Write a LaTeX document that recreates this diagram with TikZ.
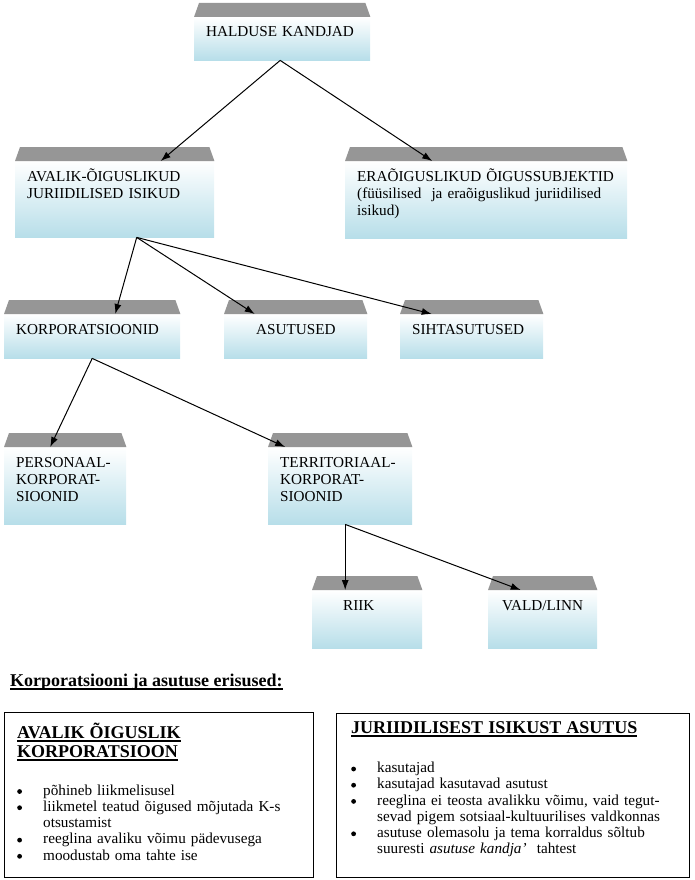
\documentclass[tikz,border=0pt]{standalone}
\usepackage{fontspec}
\setmainfont{Liberation Serif}
\usepackage{xcolor}
\usepackage{tikz}
\usetikzlibrary{arrows.meta}

\definecolor{Sky}{RGB}{183,222,233}
\definecolor{LidGray}{RGB}{150,150,150}
\newcommand{\Diag}{\fontsize{15.2}{17.3}\selectfont}
\newcommand{\Body}{\fontsize{15.2}{16.2}\selectfont}
\newcommand{\Head}{\fontsize{18}{19}\selectfont\bfseries}
\newcommand{\Uline}[1]{\leavevmode\setbox0=\hbox{#1}\rlap{\rule[-3.5pt]{\wd0}{1.3pt}}\box0}
\newcommand{\Dot}{\makebox[26pt][l]{\raisebox{1.3pt}{\tikz\fill (0,0) circle[radius=2.4pt];}}}
\newcommand{\Cont}{\hspace*{26pt}}

\begin{document}
\begin{tikzpicture}
  [
    x=1pt, y=-1pt,
    Box/.style={anchor=north west, inner sep=0pt, top color=white, bottom color=Sky},
    Lid/.style={fill=LidGray},
    Txt/.style={anchor=base west, inner sep=0pt, xshift=12pt, yshift=-20pt, text width=260pt, align=left, font=\Diag},
    Panel/.style={anchor=north west, inner sep=0pt, draw=black, line width=1.2pt},
    Note/.style={anchor=base west, inner sep=0pt, text width=#1, align=left, font=\Body},
    Arrow/.style={-{Latex[length=10pt, width=7pt]}, line width=1pt}
  ]
  \useasboundingbox (0,0) rectangle (695,880);
  % Nodes
  \node[Box, minimum width=176pt, minimum height=43pt,
    label={[Txt]north west:HALDUSE KANDJAD}] (halduse) at (194, 17) {};
  \node[Box, minimum width=199pt, minimum height=76pt,
    label={[Txt]north west:{AVALIK-ÕIGUSLIKUD\\JURIIDILISED ISIKUD}}] (avalik) at (15, 161) {};
  \node[Box, minimum width=282pt, minimum height=77pt,
    label={[Txt]north west:{ERAÕIGUSLIKUD ÕIGUSSUBJEKTID\\(füüsilised~ ja eraõiguslikud juriidilised\\isikud)}}] (erao) at (345, 161) {};
  \node[Box, minimum width=176pt, minimum height=44pt,
    label={[Txt]north west:KORPORATSIOONID}] (korp) at (4, 314) {};
  \node[Box, minimum width=143pt, minimum height=44pt,
    label={[Txt, xshift=20pt]north west:ASUTUSED}] (asutused) at (224, 314) {};
  \node[Box, minimum width=143pt, minimum height=44pt,
    label={[Txt]north west:SIHTASUTUSED}] (siht) at (400, 314) {};
  \node[Box, minimum width=122pt, minimum height=77pt,
    label={[Txt]north west:{PERSONAAL-\\KORPORAT-\\SIOONID}}] (personaal) at (4, 447) {};
  \node[Box, minimum width=144pt, minimum height=77pt,
    label={[Txt]north west:{TERRITORIAAL-\\KORPORAT-\\SIOONID}}] (territ) at (268, 447) {};
  \node[Box, minimum width=110pt, minimum height=58pt,
    label={[Txt, xshift=19pt]north west:RIIK}] (riik) at (312, 590) {};
  \node[Box, minimum width=109pt, minimum height=58pt,
    label={[Txt, xshift=2pt]north west:VALD/LINN}] (vald) at (488, 590) {};
  % Lids
  \foreach \n in {halduse, avalik, erao, korp, asutused, siht, personaal, territ, riik, vald}
    \fill[Lid] (\n.north west) -- ([xshift=5pt, yshift=14pt]\n.north west)
      -- ([xshift=-5pt, yshift=14pt]\n.north east) -- (\n.north east) -- cycle;
  % Lines
  \path [Arrow, draw] ([xshift=-2pt]halduse.south) -- ([xshift=46pt]avalik.north);
  \path [Arrow, draw] ([xshift=-2pt]halduse.south) -- ([xshift=-54pt]erao.north);
  \path [Arrow, draw] ([xshift=22pt]avalik.south) -- ([xshift=23pt]korp.north);
  \path [Arrow, draw] ([xshift=22pt]avalik.south) -- ([xshift=-41pt]asutused.north);
  \path [Arrow, draw] ([xshift=22pt]avalik.south) -- ([xshift=-40pt]siht.north);
  \path [Arrow, draw] (korp.south) -- ([xshift=-15pt]personaal.north);
  \path [Arrow, draw] (korp.south) -- ([xshift=-55pt]territ.north);
  \path [Arrow, draw] ([xshift=5pt]territ.south) -- ([xshift=-22pt]riik.north);
  \path [Arrow, draw] ([xshift=5pt]territ.south) -- ([xshift=-22pt]vald.north);
  % Differences
  \node[anchor=base west, inner sep=0pt, font=\Head] (erisused) at (10, 686)
    {\Uline{Korporatsiooni ja asutuse erisused:}};
  \node[Panel, minimum width=309pt, minimum height=165pt,
    label={[Note=290pt, xshift=13pt, yshift=-26pt]north west:{%
      {\Head\Uline{AVALIK ÕIGUSLIK}\\\Uline{KORPORATSIOON}\endgraf}
      \vspace{22pt}
      \Dot põhineb liikmelisusel\\
      \Dot liikmetel teatud õigused mõjutada K-s\\
      \Cont otsustamist\\
      \Dot reeglina avaliku võimu pädevusega\\
      \Dot moodustab oma tahte ise}}] (korpbox) at (4, 712) {};
  \node[Panel, minimum width=353pt, minimum height=164pt,
    label={[Note=334pt, xshift=15pt, yshift=-20pt]north west:{%
      {\Head\Uline{JURIIDILISEST ISIKUST ASUTUS}\endgraf}
      \vspace{23.5pt}
      \Dot kasutajad\\
      \Dot kasutajad kasutavad asutust\\
      \Dot reeglina ei teosta avalikku võimu, vaid tegut-\\
      \Cont sevad pigem sotsiaal-kultuurilises valdkonnas\\
      \Dot asutuse olemasolu ja tema korraldus sõltub\\
      \Cont suuresti \textit{asutuse kandja’}~ tahtest}}] (asutbox) at (336, 713) {};
\end{tikzpicture}
\end{document}
